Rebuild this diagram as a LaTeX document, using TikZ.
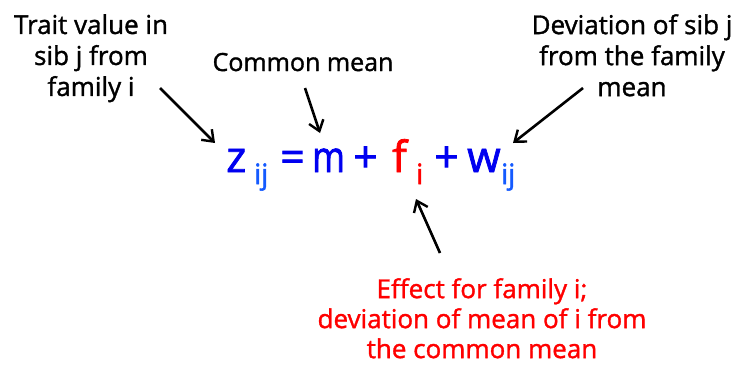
\documentclass[tikz,border=0pt]{standalone}
\usepackage{fontspec}
\setmainfont{Open Sans}[FakeBold=1.3]
\newfontfamily\eqfont{Open Sans}[FakeBold=1.8]
\usetikzlibrary{arrows.meta}
\definecolor{eqblue}{RGB}{0,0,240}
\definecolor{subblue}{RGB}{20,90,255}
\definecolor{eqred}{RGB}{255,0,0}
\tikzset{
  lbl/.style={align=center, font=\fontsize{26}{31}\selectfont, inner sep=0pt},
  big/.style={anchor=base west, inner sep=0pt, font=\eqfont\fontsize{43}{43}\selectfont},
  sub/.style={anchor=base west, inner sep=0pt, font=\eqfont\fontsize{28}{28}\selectfont, text=subblue},
  arr/.style={line width=2.6pt, -{Straight Barb[length=10pt,width=15pt,line width=2.4pt]}}
}
\begin{document}
\begin{tikzpicture}[x=1pt,y=-1pt]
\useasboundingbox (0,0) rectangle (741,368);
% labels
\node[lbl, anchor=north] (trait) at (91,14) {Trait value in\\sib j from\\family i};
\node[lbl, anchor=base, font=\fontsize{25}{30}\selectfont] (common) at (303,71) {Common mean};
\node[lbl, anchor=north] (dev) at (632,14) {Deviation of sib j\\from the family\\mean};
\node[lbl, anchor=north, text=eqred, font=\fontsize{26}{30}\selectfont] (eff) at (482,278) {Effect for family i;\\deviation of mean of i from\\the common mean};
% equation
\node[big, text=eqblue] (z) at (226,172) {z};
\node[sub] (zs) at (254,184) {ij};
\node[big, text=eqblue] (eq) at (280,172) {=};
\node[big, text=eqblue] (m) at (312,172) {\scalebox{0.82}[1]{m}};
\node[big, text=eqblue] (p1) at (353,172) {+};
\node[big, text=eqred] (f) at (392,172) {f};
\node[sub, text=eqred] (fs) at (416,184) {i};
\node[big, text=eqblue] (p2) at (434,172) {+};
\node[big, text=eqblue] (w) at (467,172) {w};
\node[sub] (ws) at (501,184) {ij};
% arrow ends
\coordinate (a1s) at (160,88);  \coordinate (a1e) at (215,143);
\coordinate (a2s) at (305,88);  \coordinate (a2e) at (320,133);
\coordinate (a3s) at (583,88);  \coordinate (a3e) at (513,143);
\coordinate (a4s) at (440,253); \coordinate (a4e) at (416,199);
\draw[arr] (a1s) -- (a1e);
\draw[arr] (a2s) -- (a2e);
\draw[arr] (a3s) -- (a3e);
\draw[arr] (a4s) -- (a4e);
\end{tikzpicture}
\end{document}
